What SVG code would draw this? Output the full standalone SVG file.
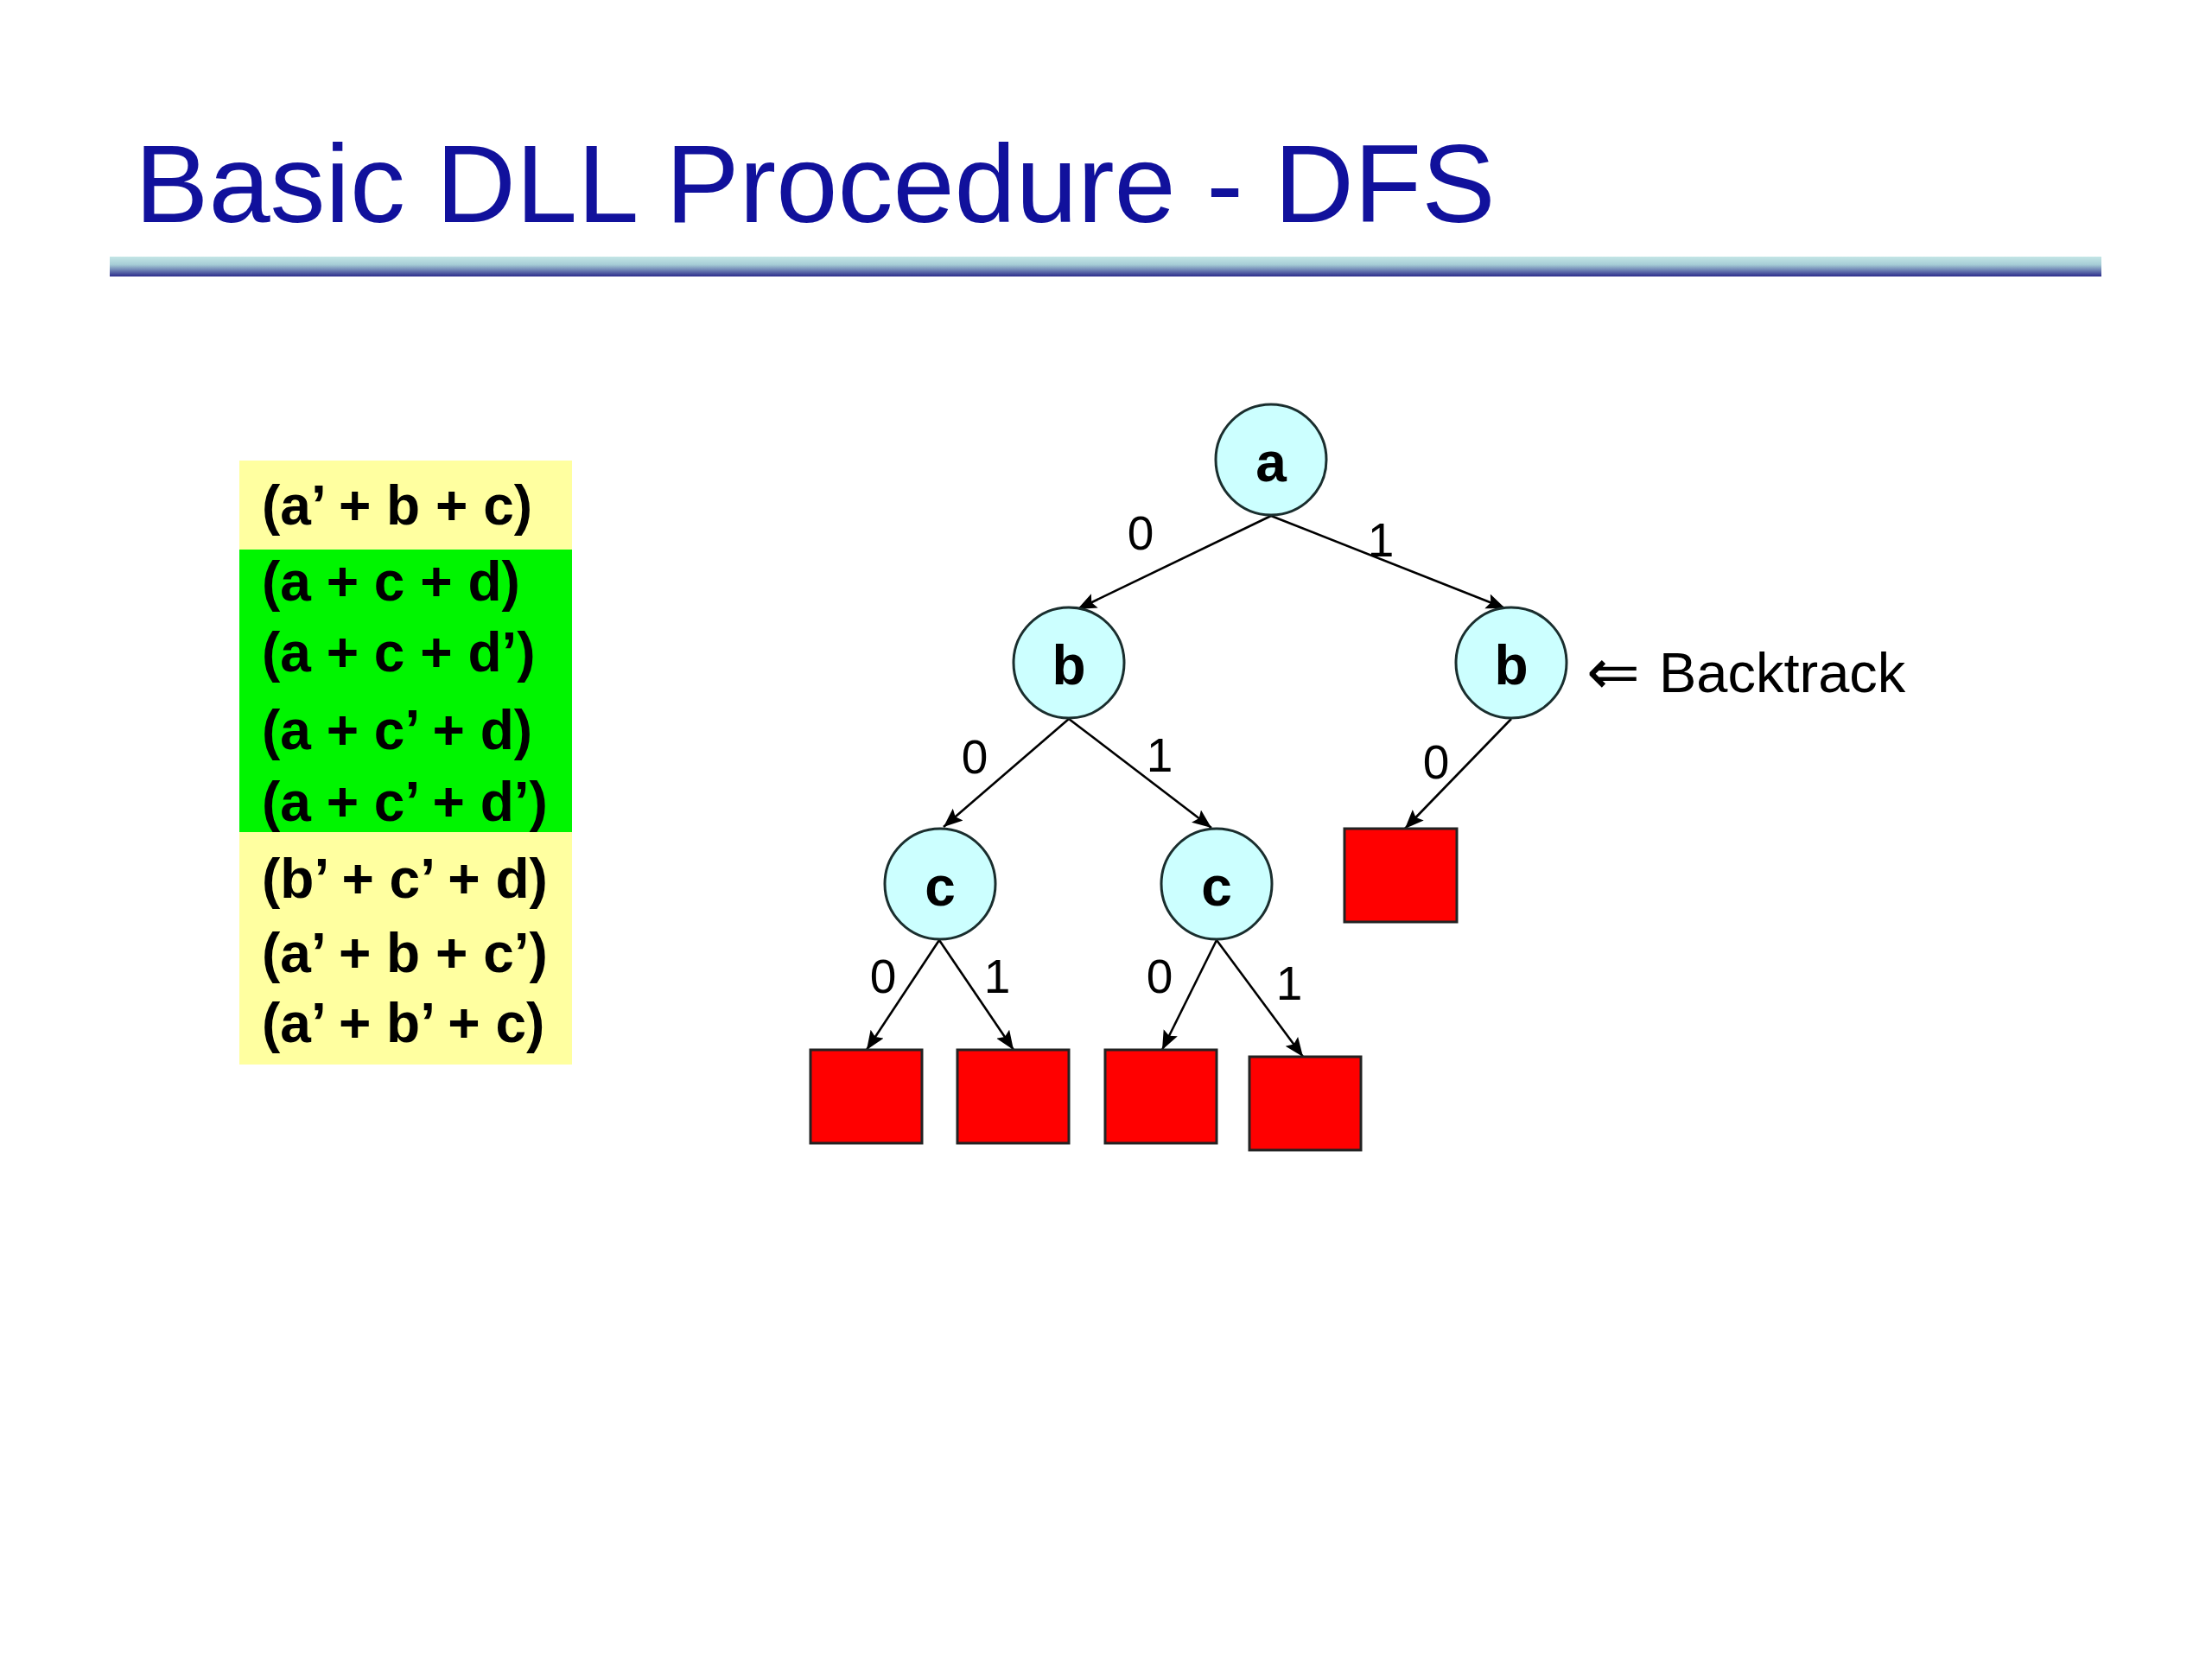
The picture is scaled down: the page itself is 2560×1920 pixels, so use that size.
<svg xmlns="http://www.w3.org/2000/svg" width="2560" height="1920" viewBox="0 0 2560 1920">
<style>
.title{font-family:"Liberation Sans",Arial,sans-serif;font-size:128px;fill:#11119c}
.clause{font-family:"Liberation Sans",Arial,sans-serif;font-size:64px;font-weight:bold;fill:#000}
.node circle{fill:#ccffff;stroke:#1a2e2e;stroke-width:3}
.node text{font-family:"Liberation Sans",Arial,sans-serif;font-size:64px;font-weight:bold;text-anchor:middle;fill:#000}
.leaf rect{fill:#ff0000;stroke:#222;stroke-width:3}
.edge{stroke:#000;stroke-width:2.6;fill:none;marker-end:url(#arr)}
.lbl{font-family:"Liberation Sans",Arial,sans-serif;font-size:55px;text-anchor:middle;fill:#000}
.bt{font-family:"Liberation Sans",Arial,sans-serif;font-size:65px;fill:#000}
</style>
<defs>
<linearGradient id="rule" x1="0" y1="0" x2="0" y2="1">
<stop offset="0" stop-color="#c4e6e6"/>
<stop offset="0.4" stop-color="#a6cdd6"/>
<stop offset="1" stop-color="#2c2c8c"/>
</linearGradient>
<marker id="arr" markerUnits="userSpaceOnUse" markerWidth="24" markerHeight="20" refX="22" refY="9" orient="auto" viewBox="0 0 24 20">
<path d="M0,0 L22,9 L0,18 L4,9 z" fill="#000"/>
</marker>
</defs>
<rect width="2560" height="1920" fill="#fff"/>
<g id="title">
<text class="title" x="156" y="257">Basic DLL Procedure - DFS</text>
<rect x="127" y="297" width="2305" height="23" fill="url(#rule)"/>
</g>
<g id="clauses">
<rect x="277" y="533" width="385" height="699" fill="#ffffa0"/>
<rect x="277" y="636" width="385" height="327" fill="#00f500"/>
<text class="clause" x="303" y="607">(a’ + b + c)</text>
<text class="clause" x="303" y="695">(a + c + d)</text>
<text class="clause" x="303" y="777">(a + c + d’)</text>
<text class="clause" x="303" y="867">(a + c’ + d)</text>
<text class="clause" x="303" y="950">(a + c’ + d’)</text>
<text class="clause" x="303" y="1039">(b’ + c’ + d)</text>
<text class="clause" x="303" y="1125">(a’ + b + c’)</text>
<text class="clause" x="303" y="1206">(a’ + b’ + c)</text>
</g>
<g id="connectors">
<line class="edge" x1="1471" y1="597" x2="1247" y2="705"/>
<line class="edge" x1="1471" y1="597" x2="1742" y2="704"/>
<line class="edge" x1="1237" y1="832" x2="1092" y2="957"/>
<line class="edge" x1="1237" y1="832" x2="1402" y2="958"/>
<line class="edge" x1="1749" y1="832" x2="1626" y2="959"/>
<line class="edge" x1="1087" y1="1088" x2="1003" y2="1215"/>
<line class="edge" x1="1087" y1="1088" x2="1173" y2="1215"/>
<line class="edge" x1="1408" y1="1088" x2="1345" y2="1215"/>
<line class="edge" x1="1408" y1="1088" x2="1508" y2="1223"/>
<text class="lbl" x="1320" y="636">0</text>
<text class="lbl" x="1598" y="644">1</text>
<text class="lbl" x="1128" y="895">0</text>
<text class="lbl" x="1342" y="893">1</text>
<text class="lbl" x="1662" y="901">0</text>
<text class="lbl" x="1022" y="1149">0</text>
<text class="lbl" x="1154" y="1149">1</text>
<text class="lbl" x="1342" y="1149">0</text>
<text class="lbl" x="1492" y="1157">1</text>
</g>
<g id="node-a" class="node"><circle cx="1471" cy="532" r="64"/><text x="1471" y="557">a</text></g>
<g id="node-b-left" class="node"><circle cx="1237" cy="767" r="64"/><text x="1237" y="792">b</text></g>
<g id="node-b-right" class="node"><circle cx="1749" cy="767" r="64"/><text x="1749" y="792">b</text></g>
<g id="node-c-left" class="node"><circle cx="1088" cy="1023" r="64"/><text x="1088" y="1048">c</text></g>
<g id="node-c-right" class="node"><circle cx="1408" cy="1023" r="64"/><text x="1408" y="1048">c</text></g>
<g id="leaf-1" class="leaf"><rect x="938" y="1215" width="129" height="108"/></g>
<g id="leaf-2" class="leaf"><rect x="1108" y="1215" width="129" height="108"/></g>
<g id="leaf-3" class="leaf"><rect x="1279" y="1215" width="129" height="108"/></g>
<g id="leaf-4" class="leaf"><rect x="1446" y="1223" width="129" height="108"/></g>
<g id="leaf-5" class="leaf"><rect x="1556" y="959" width="130" height="108"/></g>
<g id="backtrack">
<text class="bt" x="1836" y="803"><tspan font-family="DejaVu Sans, sans-serif" font-size="74">⇐</tspan><tspan x="1920" y="801">Backtrack</tspan></text>
</g>
</svg>
